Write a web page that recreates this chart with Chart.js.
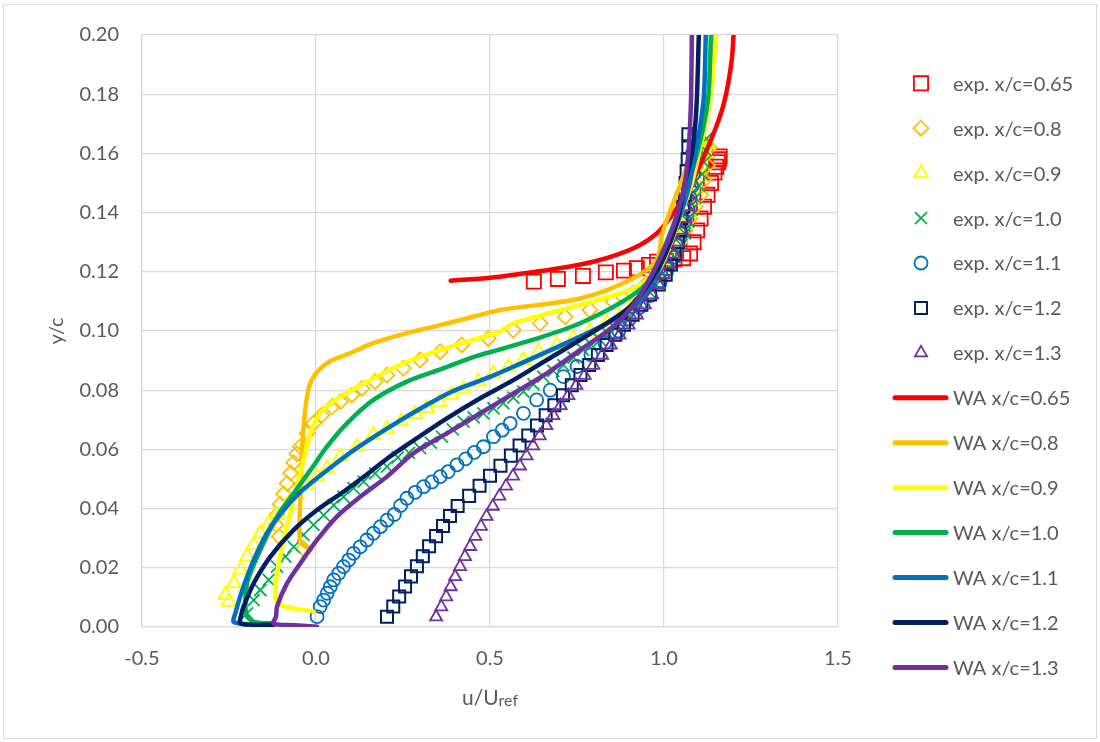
<!DOCTYPE html>
<html>
<head>
<meta charset="utf-8">
<title>Velocity profiles</title>
<script src="https://cdn.jsdelivr.net/npm/chart.js@4.4.1/dist/chart.umd.min.js"></script>
<style>
  html, body { margin: 0; padding: 0; background: #fff; }
</style>
</head>
<body>
<canvas id="profiles" width="1100" height="742"></canvas>
<script>
// measured profiles (u/Uref, y/c) at each station
const expU065 = [0.626,0.695,0.767,0.833,0.885,0.922,0.957,0.98,1.005,1.03,1.055,1.075,1.085,1.095,1.105,1.115,1.125,1.135,1.145,1.15,1.155,1.158,1.16];
const expY065 = [0.1167,0.1176,0.1186,0.1198,0.1204,0.1212,0.1223,0.1234,0.1238,0.1242,0.1246,0.1262,0.13,0.134,0.138,0.142,0.146,0.15,0.1535,0.1555,0.157,0.158,0.159];

const expU08 = [-0.036,-0.105,-0.115,-0.112,-0.103,-0.093,-0.083,-0.073,-0.064,-0.055,-0.045,-0.026,-0.007,0.017,0.046,0.07,0.103,0.132,0.17,0.204,0.251,0.299,0.357,0.419,0.495,0.567,0.644,0.716,0.787,0.854,0.912,0.95,0.98,1.005,1.025,1.045,1.06,1.075,1.09,1.105,1.115,1.125,1.13];
const expY08 = [0.0265,0.0305,0.0345,0.038,0.0415,0.045,0.0485,0.052,0.0555,0.0585,0.0609,0.0654,0.0688,0.0716,0.0744,0.0761,0.0784,0.0806,0.0829,0.0851,0.0874,0.0902,0.093,0.0953,0.0975,0.1003,0.1026,0.1048,0.1071,0.1099,0.1127,0.116,0.1195,0.123,0.1265,0.13,0.134,0.138,0.142,0.146,0.151,0.156,0.162];

const expU09 = [-0.251,-0.26,-0.236,-0.217,-0.198,-0.179,-0.16,-0.136,-0.112,-0.083,-0.055,-0.026,0.003,0.032,0.07,0.118,0.165,0.204,0.245,0.285,0.32,0.355,0.39,0.424,0.467,0.51,0.553,0.596,0.639,0.692,0.739,0.787,0.835,0.873,0.905,0.935,0.96,0.985,1.005,1.025,1.045,1.06,1.075,1.085,1.095,1.105,1.11,1.12,1.125];
const expY09 = [0.0085,0.0108,0.0148,0.0193,0.0238,0.0277,0.0317,0.035,0.0378,0.0412,0.0446,0.048,0.0508,0.0536,0.0575,0.0609,0.0649,0.0668,0.0695,0.072,0.074,0.076,0.0785,0.0803,0.0829,0.0857,0.0878,0.0902,0.093,0.0953,0.0975,0.0998,0.1026,0.1048,0.108,0.112,0.116,0.12,0.124,0.128,0.132,0.136,0.14,0.144,0.148,0.152,0.156,0.16,0.163];

const expU10 = [-0.198,-0.179,-0.16,-0.136,-0.112,-0.088,-0.064,-0.036,-0.007,0.022,0.051,0.079,0.108,0.137,0.17,0.204,0.235,0.267,0.299,0.33,0.362,0.393,0.424,0.453,0.481,0.51,0.538,0.567,0.596,0.625,0.653,0.682,0.711,0.74,0.768,0.792,0.816,0.84,0.86,0.88,0.9,0.93,0.96,0.99,1.01,1.03,1.05,1.06,1.07,1.08,1.09,1.1,1.11,1.115,1.12,1.122];
const expY10 = [0.0046,0.0091,0.0125,0.0159,0.0204,0.0238,0.0271,0.0311,0.0345,0.0378,0.0412,0.044,0.0469,0.0491,0.0519,0.0542,0.0573,0.0588,0.0604,0.0623,0.0643,0.0668,0.0694,0.0708,0.0722,0.0739,0.0756,0.0775,0.0795,0.082,0.0846,0.0865,0.0885,0.091,0.0936,0.0953,0.097,0.099,0.101,0.103,0.105,0.109,0.113,0.117,0.121,0.125,0.129,0.133,0.137,0.141,0.145,0.149,0.153,0.157,0.161,0.165];

const expU11 = [0.003,0.012,0.022,0.032,0.041,0.051,0.065,0.079,0.094,0.108,0.127,0.146,0.165,0.185,0.204,0.225,0.243,0.261,0.285,0.309,0.333,0.357,0.38,0.405,0.43,0.455,0.481,0.51,0.535,0.558,0.596,0.634,0.673,0.711,0.75,0.79,0.83,0.87,0.9,0.93,0.96,0.99,1.01,1.03,1.04,1.05,1.06,1.07,1.075,1.08,1.085,1.09,1.09];
const expY11 = [0.0035,0.0069,0.0091,0.0114,0.0136,0.0159,0.0181,0.0204,0.0226,0.0249,0.0271,0.0294,0.0317,0.0339,0.0361,0.038,0.041,0.0435,0.0455,0.0474,0.049,0.0508,0.0525,0.0548,0.0568,0.059,0.0609,0.0643,0.0665,0.0688,0.0722,0.0767,0.08,0.0846,0.088,0.092,0.096,0.1,0.104,0.108,0.112,0.117,0.121,0.125,0.129,0.133,0.137,0.141,0.145,0.149,0.153,0.157,0.161];

const expU12 = [0.204,0.222,0.239,0.256,0.273,0.29,0.307,0.325,0.345,0.365,0.385,0.407,0.44,0.47,0.5,0.53,0.56,0.585,0.61,0.635,0.66,0.685,0.71,0.735,0.76,0.785,0.81,0.835,0.86,0.885,0.91,0.935,0.96,0.985,1.005,1.02,1.03,1.04,1.045,1.05,1.055,1.06,1.062,1.065,1.068,1.07,1.07];
const expY12 = [0.0035,0.0069,0.0103,0.0137,0.0171,0.0205,0.0239,0.0273,0.0307,0.0341,0.0375,0.0409,0.0443,0.0477,0.0511,0.0545,0.0579,0.0613,0.0647,0.0681,0.0715,0.0749,0.0783,0.0817,0.0851,0.0885,0.0919,0.0953,0.0987,0.1021,0.1055,0.1089,0.1123,0.1157,0.119,0.1225,0.126,0.13,0.134,0.138,0.142,0.146,0.15,0.154,0.158,0.162,0.1665];

const expU13 = [0.345,0.36,0.374,0.387,0.4,0.414,0.428,0.443,0.458,0.474,0.49,0.508,0.527,0.546,0.566,0.586,0.605,0.624,0.643,0.662,0.682,0.703,0.725,0.748,0.772,0.797,0.822,0.847,0.872,0.898,0.922,0.945,0.966,0.985,1.0,1.015,1.028,1.04,1.05,1.058,1.065,1.07,1.074,1.077,1.08,1.082,1.084];
const expY13 = [0.0034,0.0068,0.0102,0.0136,0.017,0.0204,0.0238,0.0272,0.0306,0.034,0.0374,0.0408,0.0442,0.0476,0.051,0.0544,0.0578,0.0612,0.0646,0.068,0.0714,0.0748,0.0782,0.0816,0.085,0.0884,0.0918,0.0952,0.0986,0.102,0.1054,0.1088,0.1122,0.1156,0.119,0.1225,0.126,0.13,0.134,0.138,0.142,0.146,0.15,0.154,0.158,0.162,0.1655];

// WA model profiles
const waU065 = [0.387,0.5,0.6,0.7,0.8,0.87,0.93,0.975,1.01,1.045,1.075,1.1,1.126,1.15,1.17,1.185,1.195,1.2];
const waY065 = [0.117,0.118,0.1195,0.1212,0.1235,0.126,0.129,0.1325,0.137,0.143,0.149,0.155,0.162,0.169,0.176,0.184,0.192,0.2];

const waU08 = [-0.016,-0.045,-0.046,-0.04,-0.032,-0.024,-0.012,0.01,0.04,0.098,0.164,0.261,0.357,0.451,0.529,0.759,0.902,0.979,0.995,1.045,1.08,1.11,1.13,1.14,1.145];
const waY08 = [0.026,0.029,0.04,0.06,0.072,0.079,0.0835,0.087,0.0898,0.0925,0.0959,0.0993,0.102,0.1048,0.1071,0.111,0.1172,0.124,0.133,0.149,0.16,0.17,0.18,0.19,0.2];

const waU09 = [-0.007,-0.102,-0.117,-0.112,-0.093,-0.074,-0.055,-0.036,-0.016,0.012,0.07,0.165,0.261,0.357,0.452,0.529,0.567,0.759,0.902,0.979,1.02,1.05,1.08,1.1,1.12,1.135,1.15];
const waY09 = [0.0052,0.0074,0.0102,0.0181,0.0294,0.0384,0.0474,0.0564,0.0654,0.0722,0.0778,0.084,0.0896,0.0936,0.097,0.0998,0.1026,0.1088,0.1139,0.1195,0.13,0.14,0.15,0.16,0.17,0.18,0.2];

const waU10 = [-0.12,-0.175,-0.2,-0.198,-0.16,-0.112,-0.064,-0.016,0.032,0.089,0.165,0.261,0.357,0.452,0.529,0.65,0.759,0.873,0.95,1.0,1.04,1.07,1.095,1.115,1.128,1.135];
const waY10 = [0.0012,0.0016,0.004,0.0148,0.026,0.0373,0.0452,0.053,0.061,0.0688,0.0767,0.0829,0.087,0.0912,0.0938,0.098,0.1026,0.1094,0.1161,0.128,0.14,0.15,0.16,0.17,0.18,0.2];

const waU11 = [-0.2,-0.237,-0.232,-0.22,-0.205,-0.179,-0.141,-0.1,-0.055,0.0,0.06,0.118,0.213,0.309,0.39,0.5,0.567,0.759,0.854,0.912,0.96,1.0,1.04,1.07,1.09,1.105,1.115,1.12];
const waY11 = [0.0008,0.0018,0.0045,0.0095,0.0148,0.0226,0.0317,0.0385,0.0445,0.05,0.0555,0.0605,0.0677,0.0744,0.0795,0.0845,0.0879,0.0981,0.1037,0.1082,0.115,0.125,0.137,0.148,0.16,0.17,0.18,0.2];

const waU12 = [-0.122,-0.217,-0.215,-0.208,-0.179,-0.131,-0.064,0.003,0.079,0.146,0.2,0.28,0.376,0.472,0.567,0.663,0.759,0.835,0.9,0.95,1.0,1.04,1.06,1.08,1.09,1.095,1.1];
const waY12 = [0.0007,0.0012,0.004,0.0069,0.0148,0.0238,0.0328,0.0395,0.0457,0.0515,0.0565,0.063,0.0705,0.0773,0.0834,0.0902,0.097,0.1026,0.108,0.115,0.125,0.138,0.15,0.16,0.17,0.18,0.2];

const waU13 = [0.003,-0.06,-0.122,-0.115,-0.112,-0.083,-0.045,0.003,0.06,0.127,0.204,0.28,0.376,0.472,0.567,0.663,0.759,0.854,0.92,0.97,1.01,1.04,1.06,1.07,1.075,1.078,1.08];
const waY13 = [0.0001,0.0006,0.0012,0.0035,0.0069,0.0148,0.0215,0.0294,0.0373,0.044,0.0508,0.0587,0.0654,0.0722,0.0789,0.0857,0.0936,0.1015,0.11,0.12,0.13,0.14,0.15,0.16,0.17,0.18,0.2];

const stations = ["0.65", "0.8", "0.9", "1.0", "1.1", "1.2", "1.3"];
const expU = [expU065, expU08, expU09, expU10, expU11, expU12, expU13];
const expY = [expY065, expY08, expY09, expY10, expY11, expY12, expY13];
const waU = [waU065, waU08, waU09, waU10, waU11, waU12, waU13];
const waY = [waY065, waY08, waY09, waY10, waY11, waY12, waY13];

const xTicks = [-0.5, 0.0, 0.5, 1.0, 1.5];
const yTicks = [0.00, 0.02, 0.04, 0.06, 0.08, 0.10, 0.12, 0.14, 0.16, 0.18, 0.20];

// styling per station
const colors = ["#FF0000", "#FFC000", "#FFFF00", "#00B050", "#0070C0", "#002060", "#7030A0"];
const markers = ["rect", "rectRot", "triangle", "crossRot", "circle", "rect", "triangle"];
const markerRadius = [10, 7.5, 8, 8.5, 6.5, 8.5, 7];
const markerWidth = [1.8, 1.8, 2, 1.8, 1.8, 2, 1.8];

const textColor = "#595959";
const gridColor = "#D9D9D9";
const fontFamily = "Lato, 'Open Sans', sans-serif";

function pairs(us, ys) {
  return us.map((u, i) => ({ x: u, y: ys[i] }));
}

const datasets = [];
stations.forEach((s, i) => {
  datasets.push({
    label: "exp. x/c=" + s,
    data: pairs(expU[i], expY[i]),
    showLine: false,
    pointStyle: markers[i],
    pointRadius: markerRadius[i],
    pointHoverRadius: markerRadius[i],
    pointBorderWidth: markerWidth[i],
    pointBorderColor: colors[i],
    pointBackgroundColor: "rgba(0,0,0,0)",
    borderColor: colors[i]
  });
});
stations.forEach((s, i) => {
  datasets.push({
    label: "WA x/c=" + s,
    data: pairs(waU[i], waY[i]),
    showLine: true,
    pointRadius: 0,
    pointHoverRadius: 0,
    borderColor: colors[i],
    backgroundColor: colors[i],
    borderWidth: 4.5,
    borderCapStyle: "round",
    borderJoinStyle: "round",
    tension: 0.3
  });
});
// later series sit on top, like the spreadsheet draws them
datasets.forEach((ds, i) => { ds.order = datasets.length - i; });

// legend down the right-hand side: markers for exp, short lines for WA
const sideLegend = {
  id: "sideLegend",
  afterDraw(chart) {
    const ctx = chart.ctx;
    ctx.save();
    ctx.font = "20px " + fontFamily;
    ctx.textBaseline = "middle";
    chart.data.datasets.forEach((ds, i) => {
      const y = 83.3 + i * 44.93;
      if (ds.showLine) {
        ctx.strokeStyle = ds.borderColor;
        ctx.lineWidth = 5;
        ctx.lineCap = "round";
        ctx.beginPath();
        ctx.moveTo(895, y);
        ctx.lineTo(946, y);
        ctx.stroke();
      } else {
        ctx.strokeStyle = ds.pointBorderColor;
        ctx.fillStyle = "rgba(0,0,0,0)";
        ctx.lineWidth = ds.pointBorderWidth;
        Chart.helpers.drawPoint(ctx, {
          pointStyle: ds.pointStyle,
          radius: ds.pointRadius,
          borderWidth: ds.pointBorderWidth,
          rotation: 0
        }, 921, y);
      }
      ctx.fillStyle = textColor;
      ctx.fillText(ds.label, 953, y + 1);
    });
    ctx.restore();
  }
};

// x axis title with the smaller "ref" part, plus the thin outer frame
const extras = {
  id: "extras",
  beforeDraw(chart) {
    const ctx = chart.ctx;
    ctx.save();
    ctx.fillStyle = "#fff";
    ctx.fillRect(0, 0, chart.width, chart.height);
    ctx.strokeStyle = gridColor;
    ctx.lineWidth = 1;
    ctx.strokeRect(3.5, 4.5, 1093, 734);
    ctx.restore();
  },
  afterDraw(chart) {
    const ctx = chart.ctx;
    const area = chart.chartArea;
    ctx.save();
    ctx.fillStyle = textColor;
    ctx.textBaseline = "alphabetic";
    const main = "u/U", sub = "ref";
    ctx.font = "21px " + fontFamily;
    const w1 = ctx.measureText(main).width;
    ctx.font = "16px " + fontFamily;
    const w2 = ctx.measureText(sub).width;
    const x0 = (area.left + area.right) / 2 - (w1 + w2) / 2;
    ctx.font = "21px " + fontFamily;
    ctx.fillText(main, x0, 705);
    ctx.font = "16px " + fontFamily;
    ctx.fillText(sub, x0 + w1, 706);
    ctx.restore();
  }
};

new Chart(document.getElementById("profiles"), {
  type: "scatter",
  data: { datasets: datasets },
  plugins: [extras, sideLegend],
  options: {
    responsive: false,
    animation: false,
    devicePixelRatio: 1,
    layout: { padding: { top: 35, right: 262, bottom: 0, left: 0 } },
    plugins: {
      legend: { display: false },
      tooltip: { enabled: false }
    },
    scales: {
      x: {
        type: "linear",
        min: xTicks[0],
        max: xTicks[xTicks.length - 1],
        afterBuildTicks(scale) { scale.ticks = xTicks.map(v => ({ value: v })); },
        afterFit(scale) { scale.height = 115; },
        grid: { color: gridColor, lineWidth: 1.25, drawTicks: false },
        border: { color: gridColor, width: 1.25 },
        ticks: {
          padding: 20,
          color: textColor,
          font: { family: fontFamily, size: 20 },
          callback: v => Number(v).toFixed(1)
        }
      },
      y: {
        type: "linear",
        min: yTicks[0],
        max: yTicks[yTicks.length - 1],
        afterBuildTicks(scale) { scale.ticks = yTicks.map(v => ({ value: v })); },
        afterFit(scale) { scale.width = 142; },
        grid: { color: gridColor, lineWidth: 1.25, drawTicks: false },
        border: { color: gridColor, width: 1.25 },
        title: {
          display: true,
          text: "y/c",
          color: textColor,
          font: { family: fontFamily, size: 20 },
          padding: { top: 45, bottom: 0 }
        },
        ticks: {
          padding: 23,
          color: textColor,
          font: { family: fontFamily, size: 20 },
          callback: v => Number(v).toFixed(2)
        }
      }
    }
  }
});
</script>
</body>
</html>
